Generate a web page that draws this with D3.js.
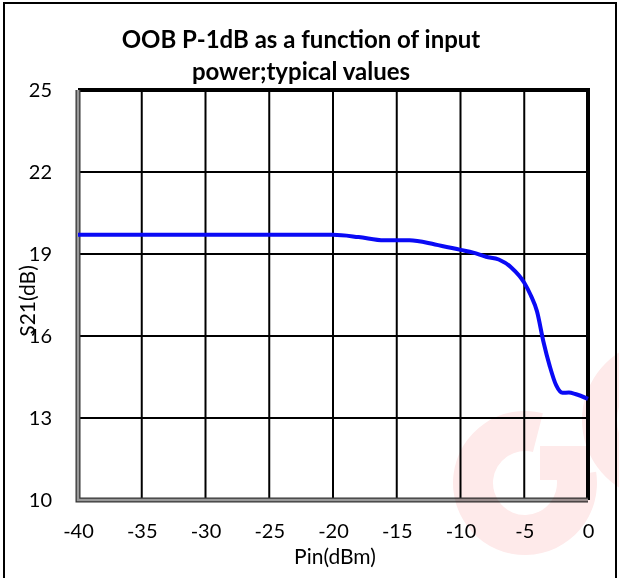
<!DOCTYPE html>
<html>
<head>
<meta charset="utf-8">
<script src="https://cdn.jsdelivr.net/npm/d3@7"></script>
<style>
  body { margin: 0; background: #fff; }
  svg { display: block; }
  text { font-family: Lato, "Open Sans", sans-serif; fill: #000; }
</style>
</head>
<body>
<svg id="chart" width="619" height="578"></svg>
<script>
// values
const pinDbm = [-40, -35, -30, -25, -20, -18, -16, -14, -12, -10, -9, -8, -7, -6, -5, -4.5, -4, -3.5, -3, -2.5, -2, -1.5, -1, 0];
const s21Db  = [19.7, 19.7, 19.7, 19.7, 19.7, 19.62, 19.5, 19.5, 19.35, 19.15, 19.05, 18.9, 18.8, 18.5, 17.95, 17.5, 16.9, 15.8, 14.9, 14.2, 13.92, 13.93, 13.88, 13.7];
const xTicks = [-40, -35, -30, -25, -20, -15, -10, -5, 0];
const yTicks = [10, 13, 16, 19, 22, 25];
const titleLines = ["OOB P-1dB as a function of input", "power;typical values"];

const svg = d3.select("#chart");
const W = 619, H = 578;
const pLeft = 78, pRight = 588, pTop = 90, pBottom = 500;

const x = d3.scaleLinear().domain([-40, 0]).range([pLeft, pRight]);
const y = d3.scaleLinear().domain([10, 25]).range([pBottom, pTop]);

// outer frame
svg.append("path")
  .attr("d", `M4,${H} V3 H616 V${H}`)
  .attr("fill", "none").attr("stroke", "#000").attr("stroke-width", 2);

// title
svg.append("g").selectAll("text")
  .data(titleLines).enter().append("text")
  .attr("x", 301).attr("y", (d, i) => 48 + i * 32)
  .attr("text-anchor", "middle")
  .style("font-size", "24px").style("font-weight", "bold")
  .text(d => d);

// grid
const grid = svg.append("g");
grid.selectAll(".vx").data(xTicks.slice(1, -1)).enter().append("line")
  .attr("x1", d => x(d)).attr("x2", d => x(d))
  .attr("y1", pTop).attr("y2", pBottom)
  .attr("stroke", "#000").attr("stroke-width", 2);
grid.selectAll(".hy").data(yTicks.slice(1, -1)).enter().append("line")
  .attr("x1", pLeft).attr("x2", pRight)
  .attr("y1", d => y(d)).attr("y2", d => y(d))
  .attr("stroke", "#000").attr("stroke-width", 2);

// plot border: thick black top/right, grey double line left/bottom
svg.append("path")
  .attr("d", `M${pLeft},${pTop} H${pRight} V${pBottom}`)
  .attr("fill", "none").attr("stroke", "#000").attr("stroke-width", 4);
svg.append("path")
  .attr("d", `M${pLeft},${pTop} V${pBottom} H${pRight}`)
  .attr("fill", "none").attr("stroke", "#333").attr("stroke-width", 5);
svg.append("path")
  .attr("d", `M${pLeft},${pTop} V${pBottom} H${pRight}`)
  .attr("fill", "none").attr("stroke", "#999").attr("stroke-width", 2.5);

// axes (labels only)
const xAxis = svg.append("g")
  .attr("transform", `translate(0,${pBottom + 21})`)
  .call(d3.axisBottom(x).tickValues(xTicks).tickSize(0).tickFormat(d => String(d)));
const yAxis = svg.append("g")
  .attr("transform", `translate(${pLeft - 23},0)`)
  .call(d3.axisLeft(y).tickValues(yTicks).tickSize(0).tickFormat(d => String(d)));
[xAxis, yAxis].forEach(a => {
  a.select(".domain").remove();
  a.selectAll("text").style("font-size", "20px").style("font-family", "Lato, sans-serif").attr("fill", "#000");
});

// axis titles
svg.append("text")
  .attr("x", 335).attr("y", 564)
  .attr("text-anchor", "middle").style("font-size", "21px")
  .text("Pin(dBm)");
svg.append("text")
  .attr("transform", "translate(35,301) rotate(-90)")
  .attr("text-anchor", "middle").style("font-size", "21px")
  .text("S21(dB)");

// curve
const line = d3.line()
  .x((d, i) => x(pinDbm[i]))
  .y(d => y(d))
  .curve(d3.curveMonotoneX);
svg.append("path")
  .datum(s21Db)
  .attr("d", line)
  .attr("fill", "none")
  .attr("stroke", "#0a0af5")
  .attr("stroke-width", 4)
  .attr("stroke-linejoin", "round");

// faint watermark
const wm = svg.append("g").attr("fill", "#feeaea").style("mix-blend-mode", "multiply");
wm.append("path")
  .attr("transform", "translate(525,483)")
  .attr("d", d3.arc().innerRadius(32).outerRadius(72).startAngle(Math.PI * 0.45).endAngle(Math.PI * 2.08)());
wm.append("rect").attr("x", 540).attr("y", 446).attr("width", 50).attr("height", 34);
wm.append("path")
  .attr("transform", "translate(662,420)")
  .attr("d", d3.arc().innerRadius(45).outerRadius(80).startAngle(Math.PI * 1.1).endAngle(Math.PI * 1.9)());
</script>
</body>
</html>
